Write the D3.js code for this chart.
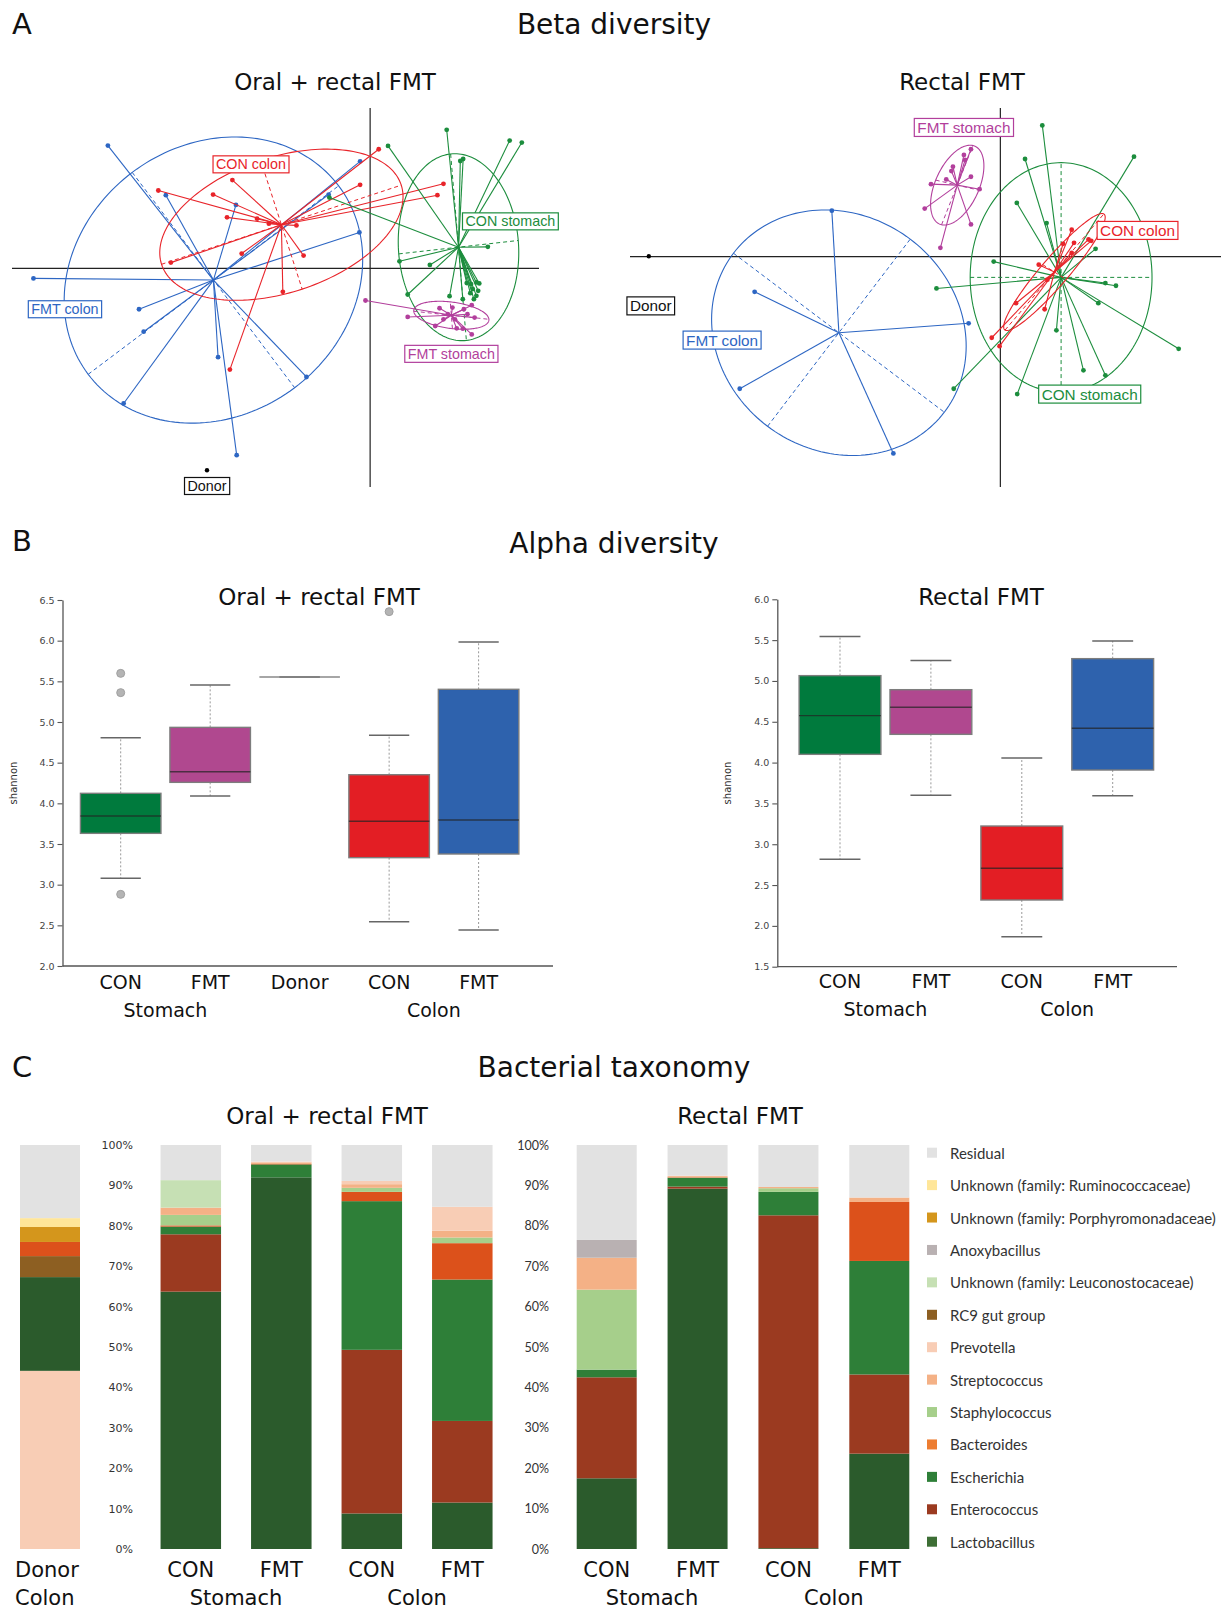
<!DOCTYPE html>
<html>
<head>
<meta charset="utf-8">
<script src="https://cdn.jsdelivr.net/npm/d3@7"></script>
<style>
html,body{margin:0;padding:0;background:#fff;}
svg{display:block;}
</style>
</head>
<body>
<svg id="fig" width="1221" height="1611"></svg>
<script>
// ================= DATA =================
const groups = ["CON stomach", "FMT stomach", "CON colon", "FMT colon"];

// ---- Beta diversity: Oral + rectal FMT (PCoA coordinates) ----
const oralConStomach = [[0.214,0.413],[0.390,0.381],[0.424,0.375],[0.050,0.365],[0.252,0.320],[0.260,0.326],[-0.114,0.211],[0.329,0.064],[0.082,0.021],[0.167,0.010],[0.105,-0.078],[0.222,-0.083],[0.259,-0.092],[0.270,-0.044],[0.282,-0.047],[0.297,-0.042],[0.305,-0.045],[0.287,-0.062],[0.302,-0.067],[0.280,-0.074],[0.297,-0.082],[0.290,-0.092]];
const oralFmtStomach = [[-0.013,-0.096],[0.105,-0.145],[0.182,-0.172],[0.194,-0.119],[0.230,-0.117],[0.262,-0.122],[0.284,-0.110],[0.292,-0.147],[0.242,-0.179],[0.259,-0.180],[0.284,-0.197],[0.217,-0.137],[0.237,-0.152],[0.272,-0.137],[0.205,-0.152]];
const oralConColon = [[0.024,0.355],[-0.028,0.249],[0.205,0.252],[0.188,0.218],[-0.385,0.263],[-0.592,0.232],[-0.439,0.220],[-0.400,0.152],[-0.316,0.148],[-0.283,0.133],[-0.206,0.128],[-0.186,0.038],[-0.359,0.044],[-0.557,0.017],[-0.244,-0.070],[-0.392,-0.302]];
const oralFmtColon = [[-0.733,0.366],[-0.571,0.218],[-0.375,0.189],[-0.028,0.319],[-0.116,0.220],[-0.030,0.107],[-0.941,-0.030],[-0.646,-0.122],[-0.633,-0.189],[-0.425,-0.265],[-0.689,-0.403],[-0.178,-0.324],[-0.373,-0.557]];
const oralCentroids = [[0.247,0.063],[0.227,-0.140],[-0.248,0.130],[-0.438,-0.035]];
const oralEllipseAxis1 = [[0.022,-0.278],[0.105,-0.012],[0.335,0.118],[0.350,0.281]];
const oralEllipseAxis2 = [[0.167,0.020],[-0.003,0.040],[0.058,-0.192],[0.227,-0.321]];
const oralDonor = [-0.456,-0.602];

// ---- Beta diversity: Rectal FMT ----
const rectalConStomach = [[0.107,0.391],[0.063,0.291],[0.341,0.298],[0.042,0.160],[0.118,0.100],[0.243,0.023],[-0.017,-0.015],[-0.163,-0.095],[0.268,-0.079],[0.295,-0.087],[0.250,-0.139],[0.455,-0.275],[0.143,-0.220],[0.212,-0.339],[0.268,-0.354],[0.043,-0.410],[-0.119,-0.394]];
const rectalFmtStomach = [[-0.075,0.320],[-0.093,0.303],[-0.090,0.288],[-0.121,0.268],[-0.125,0.255],[-0.075,0.238],[-0.138,0.230],[-0.177,0.216],[-0.053,0.201],[-0.193,0.143],[-0.075,0.096],[-0.153,0.026]];
const rectalConColon = [[0.182,0.080],[0.160,0.038],[0.188,0.041],[0.225,0.051],[0.232,0.047],[0.182,0.011],[0.098,-0.024],[0.120,-0.069],[0.040,-0.139],[0.113,-0.157],[-0.022,-0.242],[-0.002,-0.267]];
const rectalFmtColon = [[-0.430,0.137],[-0.627,-0.105],[-0.081,-0.199],[-0.665,-0.394],[-0.273,-0.587]];
const rectalCentroids = [[0.155,-0.062],[-0.110,0.213],[0.138,-0.046],[-0.412,-0.227]];
const rectalEllipseAxis1 = [[0,0.342],[0.040,0.118],[0.126,0.173],[0.269,-0.237]];
const rectalEllipseAxis2 = [[0.232,0],[0.055,-0.015],[0.030,-0.022],[0.182,0.279]];
const rectalDonor = [-0.897,0.001];

// ---- Alpha diversity (Shannon box statistics) ----
const oralAlphaKeys   = ["Stomach CON","Stomach FMT","Donor","Colon CON","Colon FMT"];
const oralAlphaLabels = ["CON","FMT","Donor","CON","FMT"];
const oralMin    = [3.078, 4.090, 5.553, 2.545, 2.443];
const oralQ1     = [3.631, 4.258, 5.553, 3.332, 3.377];
const oralMedian = [3.844, 4.389, 5.553, 3.779, 3.795];
const oralQ3     = [4.123, 4.934, 5.553, 4.352, 5.402];
const oralMax    = [4.807, 5.455, 5.553, 4.836, 5.984];
const oralOutliers = [[5.598,5.361,2.881],[],[],[6.357],[]];
const oralTicks  = [2.0,2.5,3.0,3.5,4.0,4.5,5.0,5.5,6.0,6.5];

const rectalAlphaKeys   = ["Stomach CON","Stomach FMT","Colon CON","Colon FMT"];
const rectalAlphaLabels = ["CON","FMT","CON","FMT"];
const rectalMin    = [2.815, 3.599, 1.868, 3.595];
const rectalQ1     = [4.101, 4.346, 2.317, 3.909];
const rectalMedian = [4.575, 4.677, 2.705, 4.420];
const rectalQ3     = [5.065, 4.893, 3.223, 5.273];
const rectalMax    = [5.543, 5.249, 4.056, 5.490];
const rectalOutliers = [[],[],[],[]];
const rectalTicks  = [1.5,2.0,2.5,3.0,3.5,4.0,4.5,5.0,5.5,6.0];

// ---- Bacterial taxonomy (relative abundance, %) ----
const taxa = ["Residual","Unknown (family: Ruminococcaceae)","Unknown (family: Porphyromonadaceae)","Anoxybacillus","Unknown (family: Leuconostocaceae)","RC9 gut group","Prevotella","Streptococcus","Staphylococcus","Bacteroides","Escherichia","Enterococcus","Lactobacillus"];
const taxaColors = ["#e2e2e2","#ffe699","#d4961c","#b9b1b2","#c6e0b4","#8d5f22","#f8cdb5","#f4b186","#a6cf8b","#dc511b","#2e7f38","#9b3a20","#2b5b2c"];
const barKeys = ["Stomach CON","Stomach FMT","Colon CON","Colon FMT"];
const barLabels = ["CON","FMT","CON","FMT"];
// values in legend order: Residual ... Lactobacillus
const oralTaxa = [
  [8.7, 0, 0, 0, 6.8, 0, 0,   1.8, 2.6, 0.3, 1.9, 14.2, 63.7],
  [4.1, 0, 0, 0, 0,   0, 0.2, 0.4, 0,   0.1, 3.2, 0,    92.0],
  [8.9, 0, 0, 0, 0,   0, 0.8, 0.9, 1.0, 2.3, 36.8, 40.5, 8.8],
  [15.3,0, 0, 0, 0,   0, 5.9, 1.7, 1.4, 9.0, 35.0, 20.2, 11.5]
];
const rectalTaxa = [
  [23.5,0, 0, 4.4, 0, 0, 0,   7.9, 19.8, 0,    1.9, 25.0, 17.5],
  [7.6, 0, 0, 0,   0, 0, 0.1, 0.3, 0,    0.1,  2.2, 0.5,  89.2],
  [10.4,0, 0, 0,   0, 0, 0,   0.3, 0.9,  0,    5.8, 82.4, 0.2],
  [13.0,0, 0, 0,   0, 0, 0,   1.1, 0,    14.6, 28.1, 19.6, 23.6]
];
// Donor colon, listed bottom to top
const donorTaxa   = ["Prevotella","Lactobacillus","RC9 gut group","Bacteroides","Unknown (family: Porphyromonadaceae)","Unknown (family: Ruminococcaceae)","Residual"];
const donorValues = [44.1, 23.2, 5.2, 3.5, 3.7, 2.2, 18.1];
const pctTicks = [0,10,20,30,40,50,60,70,80,90,100];

// ================= DRAWING =================
const svg = d3.select("#fig");
const SANS = "'DejaVu Sans', Verdana, sans-serif";
const ARIAL = "'Liberation Sans', Arial, sans-serif";
const CAL = "Lato, 'Open Sans', sans-serif";
const groupColors = ["#1c8d3d", "#b23f9c", "#e8242a", "#2d66c3"];
const boxColors = ["#007a3d", "#b0488f", "#e31e24", "#2e62ad"];

function txt(x, y, s, size, opts = {}) {
  return svg.append("text").attr("x", x).attr("y", y).text(s)
    .attr("font-family", opts.font || SANS).attr("font-size", size)
    .attr("text-anchor", opts.anchor || "middle").attr("fill", opts.fill || "#111");
}

// section headings
txt(12, 34, "A", 29, {anchor: "start"});
txt(614, 34, "Beta diversity", 28);
txt(12, 551, "B", 29, {anchor: "start"});
txt(614, 553, "Alpha diversity", 28);
txt(12, 1077, "C", 29, {anchor: "start"});
txt(614, 1077, "Bacterial taxonomy", 28);

// ---------- PCoA ----------
function drawPcoa(cfg) {
  const x = d3.scaleLinear().domain(cfg.xDomain).range(cfg.xRange);
  const y = d3.scaleLinear().domain(cfg.yDomain).range(cfg.yRange);
  const g = svg.append("g");
  g.append("line").attr("x1", x.range()[0]).attr("x2", x.range()[1]).attr("y1", y(0)).attr("y2", y(0))
    .attr("stroke", "#222").attr("stroke-width", 1.2);
  g.append("line").attr("x1", x(0)).attr("x2", x(0)).attr("y1", y.range()[0]).attr("y2", y.range()[1])
    .attr("stroke", "#222").attr("stroke-width", 1.2);
  const ts = d3.range(0, 2 * Math.PI, Math.PI / 90);
  const line = d3.line().curve(d3.curveLinearClosed);
  cfg.order.forEach(i => {
    const col = groupColors[i];
    const c = cfg.centroids[i], a = cfg.axis1[i], b = cfg.axis2[i];
    const pts = ts.map(t => [x(c[0] + Math.cos(t) * a[0] + Math.sin(t) * b[0]),
                             y(c[1] + Math.cos(t) * a[1] + Math.sin(t) * b[1])]);
    g.append("path").attr("d", line(pts)).attr("fill", "none").attr("stroke", col).attr("stroke-width", 1.1);
    [a, b].forEach(v => {
      g.append("line").attr("x1", x(c[0] - v[0])).attr("y1", y(c[1] - v[1]))
        .attr("x2", x(c[0] + v[0])).attr("y2", y(c[1] + v[1]))
        .attr("stroke", col).attr("stroke-width", 1).attr("stroke-dasharray", "4,3");
    });
    cfg.points[i].forEach(p => {
      g.append("line").attr("x1", x(c[0])).attr("y1", y(c[1])).attr("x2", x(p[0])).attr("y2", y(p[1]))
        .attr("stroke", col).attr("stroke-width", 1.1);
    });
    cfg.points[i].forEach(p => {
      g.append("circle").attr("cx", x(p[0])).attr("cy", y(p[1])).attr("r", 2.4).attr("fill", col);
    });
  });
  g.append("circle").attr("cx", x(cfg.donor[0])).attr("cy", y(cfg.donor[1])).attr("r", 2.2).attr("fill", "#000");
  const labs = groups.map((n, i) => ({name: n, pos: cfg.labelPos[i], col: groupColors[i]}))
    .concat([{name: "Donor", pos: cfg.labelPos[4], col: "#111"}]);
  labs.forEach(l => {
    const t = g.append("text").attr("x", x(l.pos[0])).attr("y", y(l.pos[1])).text(l.name)
      .attr("font-family", ARIAL).attr("font-size", cfg.labelSize).attr("text-anchor", "middle")
      .attr("dominant-baseline", "central").attr("fill", l.col);
    const bb = t.node().getBBox();
    g.insert("rect", () => t.node()).attr("x", bb.x - 3).attr("y", bb.y - 0.5)
      .attr("width", bb.width + 6).attr("height", bb.height + 1)
      .attr("fill", "#fff").attr("stroke", l.col).attr("stroke-width", 1.2);
  });
}

txt(335, 90, "Oral + rectal FMT", 23);
txt(962, 90, "Rectal FMT", 23);

drawPcoa({
  xDomain: [-1.001, 0.472], xRange: [12, 539],
  yDomain: [-0.652, 0.478], yRange: [487, 108],
  points: [oralConStomach, oralFmtStomach, oralConColon, oralFmtColon],
  centroids: oralCentroids, axis1: oralEllipseAxis1, axis2: oralEllipseAxis2,
  donor: oralDonor, order: [3, 2, 0, 1], labelSize: 14.3,
  labelPos: [[0.392, 0.140], [0.227, -0.255], [-0.333, 0.310], [-0.853, -0.122], [-0.456, -0.649]]
});
drawPcoa({
  xDomain: [-0.945, 0.563], xRange: [630, 1221],
  yDomain: [-0.687, 0.443], yRange: [487, 108],
  points: [rectalConStomach, rectalFmtStomach, rectalConColon, rectalFmtColon],
  centroids: rectalCentroids, axis1: rectalEllipseAxis1, axis2: rectalEllipseAxis2,
  donor: rectalDonor, order: [3, 1, 0, 2], labelSize: 15.3,
  labelPos: [[0.228, -0.410], [-0.093, 0.385], [0.350, 0.078], [-0.710, -0.249], [-0.892, -0.147]]
});

// ---------- Alpha diversity ----------
function drawAlpha(cfg) {
  const y = d3.scaleLinear().domain(cfg.yDomain).range(cfg.yRange);
  const x = d3.scalePoint().domain(cfg.keys).range(cfg.xRange);
  const bw = x.step() * 0.9;
  const g = svg.append("g");
  const ax = g.append("g").attr("transform", `translate(${cfg.axisX},0)`)
    .call(d3.axisLeft(y).tickValues(cfg.ticks).tickFormat(d3.format(".1f")).tickSize(5).tickSizeOuter(0).tickPadding(3));
  ax.select(".domain").attr("stroke", "#555").attr("stroke-width", 1.3);
  ax.selectAll(".tick line").attr("stroke", "#555").attr("stroke-width", 1.1);
  ax.selectAll("text").attr("font-family", SANS).attr("font-size", 9.5).attr("fill", "#444");
  g.append("line").attr("x1", cfg.axisX).attr("x2", cfg.xEnd).attr("y1", y.range()[0]).attr("y2", y.range()[0])
    .attr("stroke", "#555").attr("stroke-width", 1.3);
  g.append("text").attr("transform", `translate(${cfg.ylabX},${(y.range()[0] + y.range()[1]) / 2}) rotate(-90)`)
    .attr("text-anchor", "middle").attr("dominant-baseline", "central").attr("font-family", SANS)
    .attr("font-size", 10).attr("fill", "#333").text("shannon");
  cfg.keys.forEach((k, i) => {
    const cx = x(k);
    const col = cfg.colors[i];
    g.append("line").attr("x1", cx).attr("x2", cx).attr("y1", y(cfg.q3[i])).attr("y2", y(cfg.max[i]))
      .attr("stroke", "#999").attr("stroke-dasharray", "2,2");
    g.append("line").attr("x1", cx).attr("x2", cx).attr("y1", y(cfg.q1[i])).attr("y2", y(cfg.min[i]))
      .attr("stroke", "#999").attr("stroke-dasharray", "2,2");
    [cfg.min[i], cfg.max[i]].forEach(v => g.append("line").attr("x1", cx - bw / 4).attr("x2", cx + bw / 4)
      .attr("y1", y(v)).attr("y2", y(v)).attr("stroke", "#666").attr("stroke-width", 1.5));
    g.append("rect").attr("x", cx - bw / 2).attr("width", bw).attr("y", y(cfg.q3[i]))
      .attr("height", y(cfg.q1[i]) - y(cfg.q3[i])).attr("fill", col || "none")
      .attr("stroke", "#7d7d7d").attr("stroke-width", 1.4);
    g.append("line").attr("x1", cx - bw / 2).attr("x2", cx + bw / 2).attr("y1", y(cfg.median[i])).attr("y2", y(cfg.median[i]))
      .attr("stroke", col ? "#222" : "#888").attr("stroke-opacity", col ? 0.7 : 1).attr("stroke-width", 1.4);
    cfg.outliers[i].forEach(v => g.append("circle").attr("cx", cx).attr("cy", y(v)).attr("r", 4)
      .attr("fill", "#b4b4b4").attr("stroke", "#a0a0a0"));
    g.append("text").attr("x", cx).attr("y", cfg.labY).attr("text-anchor", "middle")
      .attr("font-family", SANS).attr("font-size", 19).attr("fill", "#111").text(cfg.labels[i]);
  });
  cfg.groupLabs.forEach(gl => {
    const cx = (x(gl[1]) + x(gl[2])) / 2;
    g.append("text").attr("x", cx).attr("y", cfg.labY + 28).attr("text-anchor", "middle")
      .attr("font-family", SANS).attr("font-size", 19).attr("fill", "#111").text(gl[0]);
  });
}

txt(319, 605, "Oral + rectal FMT", 23);
txt(981, 605, "Rectal FMT", 23);

drawAlpha({
  keys: oralAlphaKeys, labels: oralAlphaLabels, xRange: [120.7, 478.6],
  yDomain: [2.0, 6.5], yRange: [966, 600], ticks: oralTicks, axisX: 62.5, xEnd: 553, ylabX: 13,
  min: oralMin, q1: oralQ1, median: oralMedian, q3: oralQ3, max: oralMax, outliers: oralOutliers,
  colors: [boxColors[0], boxColors[1], null, boxColors[2], boxColors[3]], labY: 989,
  groupLabs: [["Stomach", "Stomach CON", "Stomach FMT"], ["Colon", "Colon CON", "Colon FMT"]]
});
drawAlpha({
  keys: rectalAlphaKeys, labels: rectalAlphaLabels, xRange: [840, 1112.7],
  yDomain: [1.5, 6.0], yRange: [966.7, 599.3], ticks: rectalTicks, axisX: 777.3, xEnd: 1177, ylabX: 727,
  min: rectalMin, q1: rectalQ1, median: rectalMedian, q3: rectalQ3, max: rectalMax, outliers: rectalOutliers,
  colors: boxColors, labY: 988,
  groupLabs: [["Stomach", "Stomach CON", "Stomach FMT"], ["Colon", "Colon CON", "Colon FMT"]]
});

// ---------- Taxonomy ----------
const yPct = d3.scaleLinear().domain([0, 100]).range([1549, 1145]);
const colorOf = d3.scaleOrdinal().domain(taxa).range(taxaColors);
const stackKeys = taxa.slice().reverse();

function drawBars(cfg) {
  const x = d3.scalePoint().domain(barKeys).range(cfg.xRange);
  const rows = cfg.values.map(v => Object.fromEntries(taxa.map((t, j) => [t, v[j]])));
  const series = d3.stack().keys(stackKeys)(rows);
  const g = svg.append("g");
  series.forEach(s => {
    s.forEach((d, i) => {
      if (d[1] - d[0] <= 0) return;
      g.append("rect").attr("x", x(barKeys[i]) - cfg.bw / 2).attr("width", cfg.bw)
        .attr("y", yPct(d[1])).attr("height", yPct(d[0]) - yPct(d[1])).attr("fill", colorOf(s.key));
    });
  });
  const ax = g.append("g").attr("transform", `translate(${cfg.axisX},0)`)
    .call(d3.axisLeft(yPct).tickValues(pctTicks).tickFormat(d => d + "%").tickSize(0).tickPadding(0));
  ax.select(".domain").remove();
  ax.selectAll("text").attr("font-family", cfg.tickFont).attr("font-size", cfg.tickSize).attr("fill", "#333");
  barKeys.forEach((k, i) => {
    g.append("text").attr("x", x(k)).attr("y", 1577).attr("text-anchor", "middle")
      .attr("font-family", SANS).attr("font-size", 21).attr("fill", "#111").text(barLabels[i]);
  });
  [["Stomach", 0, 1], ["Colon", 2, 3]].forEach(gl => {
    g.append("text").attr("x", (x(barKeys[gl[1]]) + x(barKeys[gl[2]])) / 2).attr("y", 1605)
      .attr("text-anchor", "middle").attr("font-family", SANS).attr("font-size", 21).attr("fill", "#111").text(gl[0]);
  });
}

txt(327, 1124, "Oral + rectal FMT", 23);
txt(740, 1124, "Rectal FMT", 23);

// donor bar
(function () {
  let acc = 0;
  donorTaxa.forEach((t, i) => {
    const v = donorValues[i];
    svg.append("rect").attr("x", 20).attr("width", 60).attr("y", yPct(acc + v))
      .attr("height", yPct(acc) - yPct(acc + v)).attr("fill", colorOf(t));
    acc += v;
  });
  txt(15, 1577, "Donor", 21, {anchor: "start"});
  txt(15, 1605, "Colon", 21, {anchor: "start"});
})();

drawBars({values: oralTaxa, xRange: [190.8, 462.3], bw: 60.5, axisX: 133, tickFont: SANS, tickSize: 11});
drawBars({values: rectalTaxa, xRange: [606.7, 879.3], bw: 60, axisX: 549, tickFont: CAL, tickSize: 12.5});

// legend
const yLeg = d3.scalePoint().domain(taxa).range([1152.7, 1541.7]);
taxa.forEach(t => {
  svg.append("rect").attr("x", 927).attr("y", yLeg(t) - 5).attr("width", 10).attr("height", 10)
    .attr("fill", t === "Bacteroides" ? "#ed7d31" : (t === "Lactobacillus" ? "#3d6e35" : colorOf(t)));
  svg.append("text").attr("x", 950).attr("y", yLeg(t)).attr("dominant-baseline", "central")
    .attr("font-family", CAL).attr("font-size", 15).attr("fill", "#333").text(t);
});
</script>
</body>
</html>
